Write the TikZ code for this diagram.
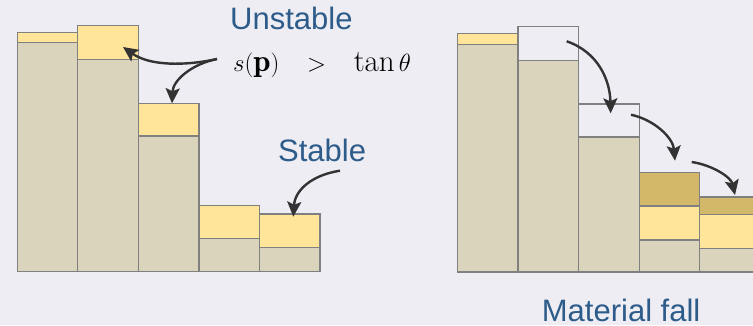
\documentclass[tikz,border=0pt]{standalone}
\usepackage{fontspec}
\newfontfamily\labfont{Liberation Sans}
\usetikzlibrary{arrows.meta}
\definecolor{bg}{HTML}{EDEDF3}
\definecolor{soil}{HTML}{DAD4BD}
\definecolor{sand}{HTML}{FFE599}
\definecolor{gold}{HTML}{D4B86A}
\definecolor{edge}{HTML}{808080}
\definecolor{arr}{HTML}{333333}
\definecolor{lab}{HTML}{2E5C8A}
\tikzset{
  cell/.style={draw=edge, line width=1.3pt},
  soilcell/.style={cell, fill=soil},
  sandcell/.style={cell, fill=sand},
  goldcell/.style={cell, fill=gold},
  emptycell/.style={cell, fill=none},
  flow/.style={draw=arr, line width=2.4pt, -{Stealth[length=15pt,width=14pt,inset=3pt]}},
  lbl/.style={text=lab, font=\labfont\fontsize{31}{37}\selectfont, inner sep=0pt, anchor=base west},
}
\begin{document}
\begin{tikzpicture}[x=1pt,y=-1pt]
\useasboundingbox (0,0) rectangle (753,325);
\fill[bg] (0,0) rectangle (753,325);
\clip (0,0) rectangle (753,325);
% left group
\draw[soilcell] (17.3,42.7) rectangle (77.7,271.7);
\draw[sandcell] (17.3,32.3) rectangle (77.7,42.7);
\draw[soilcell] (77.7,59.7) rectangle (138.3,271.7);
\draw[sandcell] (77.7,25.7) rectangle (138.3,59.7);
\draw[soilcell] (138.3,136) rectangle (199,271.7);
\draw[sandcell] (138.3,103.3) rectangle (199,136);
\draw[soilcell] (199,238.3) rectangle (259.3,271.7);
\draw[sandcell] (199,205.3) rectangle (259.3,238.3);
\draw[soilcell] (259.3,247.3) rectangle (320,271.7);
\draw[sandcell] (259.3,214) rectangle (320,247.3);
% right group
\draw[soilcell] (457.3,44.3) rectangle (518,272);
\draw[sandcell] (457.3,33.3) rectangle (518,44.3);
\draw[soilcell] (518,60.7) rectangle (578.7,272);
\draw[emptycell] (518,26.7) rectangle (578.7,60.7);
\draw[soilcell] (578.7,137) rectangle (639.3,272);
\draw[emptycell] (578.7,104) rectangle (639.3,137);
\draw[soilcell] (639.3,240) rectangle (699.7,272);
\draw[sandcell] (639.3,206) rectangle (699.7,240);
\draw[goldcell] (639.3,172.7) rectangle (699.7,206);
\draw[soilcell] (699.7,248.7) rectangle (770,272);
\draw[sandcell] (699.7,214.7) rectangle (770,248.7);
\draw[goldcell] (699.7,197) rectangle (770,214.7);
% labels
\node[lbl] (unstable) at (230,29.3) {Unstable};
\node[lbl] (stable) at (278,161) {Stable};
\node[lbl] (fall) at (541.7,321) {Material fall};
\node[inner sep=0pt, anchor=base west, font=\fontsize{31}{36}\selectfont] (cond) at (233,71.7) {$s(\mathbf{p})\;\;\;>\;\;\;\tan\theta$};
% arrow end points
\coordinate (c0) at (217,59);
\coordinate (t1) at (123,47);
\coordinate (t2) at (172,103.3);
\coordinate (s0) at (340,170.7);
\coordinate (s1) at (293.3,216.7);
\coordinate (r0) at (566.7,41.3);
\coordinate (r1) at (610.7,113.3);
\coordinate (r2) at (631,114.7);
\coordinate (r3) at (675,160.7);
\coordinate (r4) at (691.7,162);
\coordinate (r5) at (735,195);
\draw[flow] (c0) .. controls (185,66) and (150,66) .. (t1);
\draw[flow] (c0) .. controls (192,64) and (173,80) .. (t2);
\draw[flow] (s0) .. controls (312,175) and (295,190) .. (s1);
\draw[flow] (r0) .. controls (598,52) and (610,80) .. (r1);
\draw[flow] (r2) .. controls (655,120) and (673,138) .. (r3);
\draw[flow] (r4) .. controls (712,165) and (731,177) .. (r5);
\end{tikzpicture}
\end{document}
